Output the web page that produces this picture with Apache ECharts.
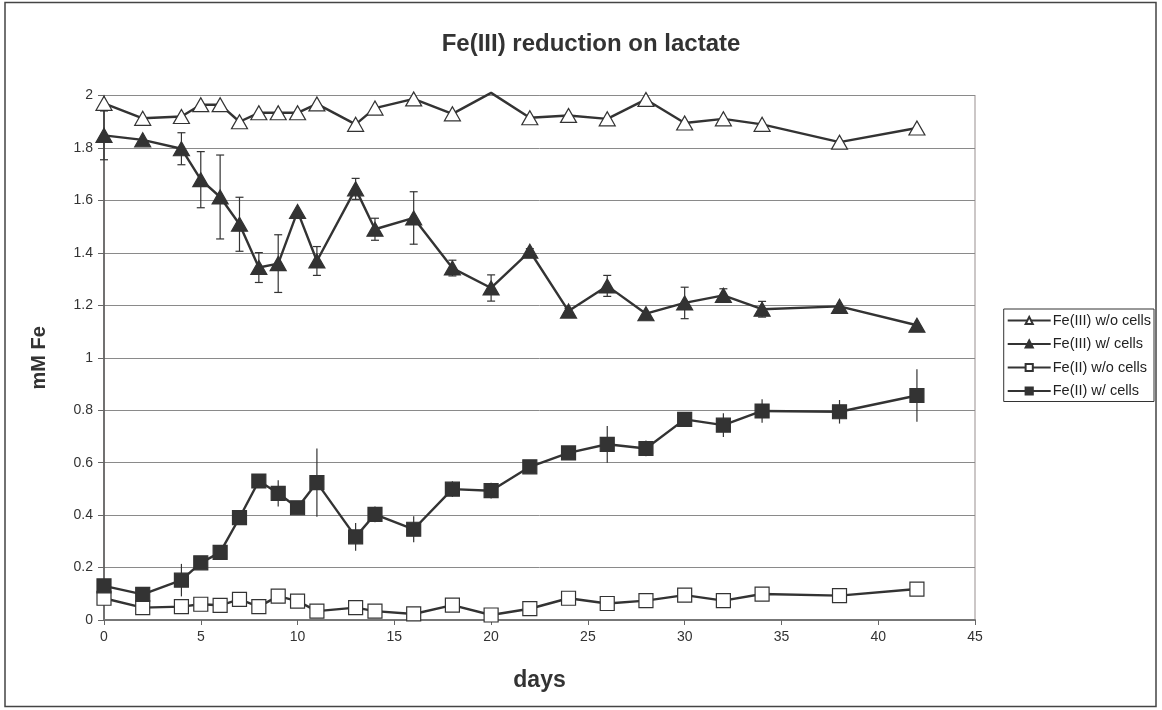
<!DOCTYPE html>
<html>
<head>
<meta charset="utf-8">
<title>Fe(III) reduction on lactate</title>
<script src="https://cdn.jsdelivr.net/npm/echarts@6/dist/echarts.min.js"></script>
<style>
  html, body { margin: 0; padding: 0; background: #fff; }
  #chart { width: 1162px; height: 710px; }
</style>
</head>
<body>
<div id="chart"></div>
<script>
// Sampling days (shared by all four series)
const days = [0, 2, 4, 5, 6, 7, 8, 9, 10, 11, 13, 14, 16, 18, 20, 22, 24, 26, 28, 30, 32, 34, 38, 42];

// Concentrations, mM Fe
const fe3NoCells = [1.97, 1.913, 1.92, 1.965, 1.965, 1.90, 1.934, 1.934, 1.934, 1.968, 1.89, 1.952, 1.987, 1.93, 2.01, 1.915, 1.924, 1.911, 1.985, 1.895, 1.911, 1.89, 1.822, 1.876];
const fe3Cells   = [1.848, 1.831, 1.797, 1.679, 1.613, 1.509, 1.344, 1.359, 1.558, 1.369, 1.644, 1.49, 1.533, 1.342, 1.266, 1.406, 1.178, 1.274, 1.168, 1.209, 1.238, 1.185, 1.196, 1.124];
const fe2NoCells = [0.083, 0.047, 0.051, 0.06, 0.056, 0.079, 0.051, 0.091, 0.072, 0.034, 0.047, 0.034, 0.023, 0.057, 0.019, 0.043, 0.083, 0.063, 0.074, 0.095, 0.074, 0.099, 0.093, 0.118];
const fe2Cells   = [0.13, 0.098, 0.152, 0.218, 0.258, 0.39, 0.53, 0.483, 0.428, 0.524, 0.317, 0.403, 0.346, 0.499, 0.493, 0.584, 0.637, 0.67, 0.654, 0.765, 0.743, 0.797, 0.794, 0.856];

// Standard deviations (0 = no bar)
const fe3CellsErr = [0.093, 0, 0.061, 0.107, 0.16, 0.103, 0.057, 0.11, 0, 0.055, 0.04, 0.042, 0.1, 0.03, 0.05, 0.01, 0.01, 0.04, 0, 0.06, 0.025, 0.03, 0, 0];
const fe2CellsErr = [0, 0, 0.062, 0, 0, 0, 0, 0.05, 0, 0.13, 0.053, 0.03, 0.05, 0.03, 0.03, 0, 0, 0.07, 0.03, 0.02, 0.045, 0.045, 0.045, 0.1];

const seriesNames = ['Fe(III) w/o cells', 'Fe(III) w/ cells', 'Fe(II) w/o cells', 'Fe(II) w/ cells'];
const xTicks = { min: 0, max: 45, step: 5 };
const yTicks = { min: 0, max: 2, step: 0.2 };

const INK = '#333333';
const FONT = 'Liberation Sans, Arial, sans-serif';

function pairs(vals) {
  return days.map((d, i) => [d, vals[i]]);
}

function errData(vals, errs) {
  const out = [];
  days.forEach((d, i) => {
    if (errs[i] > 0) out.push([d, vals[i] - errs[i], vals[i] + errs[i]]);
  });
  return out;
}

function errorBars(data, cap) {
  return {
    type: 'custom',
    coordinateSystem: 'cartesian2d',
    silent: true,
    z: 1,
    encode: { x: 0, y: [1, 2] },
    data: data,
    renderItem: function (params, api) {
      const x = api.value(0);
      const lo = api.coord([x, api.value(1)]);
      const hi = api.coord([x, api.value(2)]);
      const style = { stroke: INK, lineWidth: 1.2 };
      const children = [{
        type: 'line',
        shape: { x1: lo[0], y1: lo[1], x2: hi[0], y2: hi[1] },
        style: style
      }];
      if (cap > 0) {
        children.push({ type: 'line', shape: { x1: lo[0] - cap, y1: lo[1], x2: lo[0] + cap, y2: lo[1] }, style: style });
        children.push({ type: 'line', shape: { x1: hi[0] - cap, y1: hi[1], x2: hi[0] + cap, y2: hi[1] }, style: style });
      }
      return { type: 'group', children: children };
    }
  };
}

function lineSeries(name, vals, symbol, size, filled) {
  return {
    name: name,
    type: 'line',
    data: pairs(vals),
    symbol: symbol,
    symbolSize: size,
    showAllSymbol: true,
    clip: false,
    z: 3,
    lineStyle: { color: INK, width: 2.4 },
    itemStyle: {
      color: filled ? INK : '#ffffff',
      borderColor: INK,
      borderWidth: 1.2,
      opacity: 1
    },
    emphasis: { disabled: true }
  };
}

const chart = echarts.init(document.getElementById('chart'), null, { renderer: 'canvas' });

// open-triangle series: the point above the axis maximum is drawn without a marker
const fe3NoCellsSeries = lineSeries(seriesNames[0], fe3NoCells, 'triangle', [16, 14], false);
fe3NoCellsSeries.data = days.map((d, i) => fe3NoCells[i] > yTicks.max
  ? { value: [d, fe3NoCells[i]], symbol: 'none' }
  : [d, fe3NoCells[i]]);

chart.setOption({
  animation: false,
  backgroundColor: '#ffffff',
  textStyle: { fontFamily: FONT },
  title: {
    text: 'Fe(III) reduction on lactate',
    left: 586,
    textAlign: 'center',
    top: 27,
    textStyle: { fontSize: 24, fontWeight: 'bold', color: INK, fontFamily: FONT }
  },
  legend: {
    orient: 'vertical',
    right: 8,
    top: 309,
    data: seriesNames,
    itemWidth: 43,
    itemHeight: 9,
    itemGap: 8.5,
    padding: [4, 3, 3, 3],
    borderColor: INK,
    borderWidth: 1,
    textStyle: { fontSize: 14.5, color: '#222', padding: [0, 0, 0, -3], fontFamily: FONT },
    selectedMode: false
  },
  grid: {
    left: 104,
    right: 187,
    top: 95.5,
    bottom: 90,
    show: true,
    borderColor: '#aaa2a2',
    borderWidth: 1.2,
    containLabel: false
  },
  xAxis: {
    type: 'value',
    min: xTicks.min,
    max: xTicks.max,
    interval: xTicks.step,
    name: 'days',
    nameLocation: 'middle',
    nameGap: 49,
    nameTextStyle: { fontSize: 23, fontWeight: 'bold', color: INK, fontFamily: FONT },
    axisLine: { show: true, onZero: false, lineStyle: { color: '#777', width: 2 } },
    axisTick: { show: true, inside: false, length: 5, lineStyle: { color: '#666', width: 1 } },
    axisLabel: { fontSize: 14, color: INK, margin: 10, fontFamily: FONT },
    splitLine: { show: false }
  },
  yAxis: {
    type: 'value',
    min: yTicks.min,
    max: yTicks.max,
    interval: yTicks.step,
    name: 'mM Fe',
    nameLocation: 'middle',
    nameGap: 55,
    nameRotate: 90,
    nameTextStyle: { fontSize: 20, fontWeight: 'bold', color: INK, fontFamily: FONT },
    axisLine: { show: true, lineStyle: { color: '#555', width: 1.5 } },
    axisTick: { show: true, inside: false, length: 6, lineStyle: { color: '#666', width: 1 } },
    axisLabel: { fontSize: 14, color: INK, margin: 11, fontFamily: FONT },
    splitLine: { show: true, lineStyle: { color: '#8a8a8a', width: 1 } }
  },
  graphic: [{
    type: 'rect',
    shape: { x: 5, y: 2.5, width: 1151, height: 704 },
    style: { fill: 'none', stroke: '#444', lineWidth: 1.5 },
    silent: true,
    z: -10
  }],
  series: [
    errorBars(errData(fe3Cells, fe3CellsErr), 4),
    errorBars(errData(fe2Cells, fe2CellsErr), 0),
    fe3NoCellsSeries,
    lineSeries(seriesNames[1], fe3Cells, 'triangle', [16, 14], true),
    lineSeries(seriesNames[2], fe2NoCells, 'rect', 14, false),
    lineSeries(seriesNames[3], fe2Cells, 'rect', 14, true)
  ]
});
</script>
</body>
</html>
